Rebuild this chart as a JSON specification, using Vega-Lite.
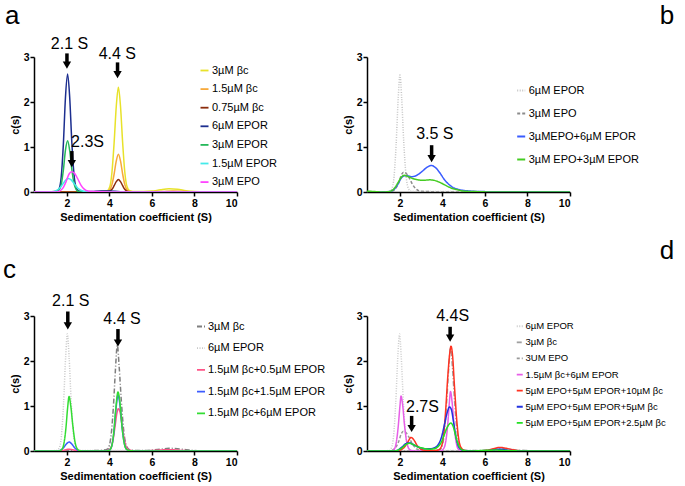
{
  "$schema": "https://vega.github.io/schema/vega-lite/v6.json",
  "background": "white",
  "padding": {"left": 2, "top": 3, "right": 5, "bottom": 5},
  "config": {
    "view": {"stroke": null},
    "font": "Liberation Sans",
    "axis": {"domainColor": "#000", "domainWidth": 1.5, "tickColor": "#000", "tickWidth": 1.5, "tickSize": 4, "labelFont": "Liberation Sans", "labelFontWeight": "bold", "labelFontSize": 10.5, "labelColor": "#000", "labelPadding": 2, "titleFont": "Liberation Sans", "titleFontWeight": "bold", "titleFontSize": 11, "titleColor": "#000", "grid": false},
    "axisY": {"titlePadding": 3, "labelPadding": 1},
    "axisX": {"titlePadding": 3},
    "legend": {"orient": "none", "symbolType": "stroke", "symbolSize": 64, "symbolStrokeWidth": 1.8, "labelFont": "Liberation Sans", "labelFontSize": 11, "labelColor": "#000", "padding": 0, "labelOffset": 2, "labelLimit": 400},
    "text": {"font": "Liberation Sans", "fontSize": 16, "baseline": "alphabetic", "color": "#000"}
  },
  "resolve": {"scale": {"color": "independent", "strokeDash": "independent", "x": "independent", "y": "independent"}, "legend": {"color": "independent", "strokeDash": "independent"}},
  "datasets": {
    "a": [
      {"s":"3µM βc","x":0.45,"y":0},{"s":"3µM βc","x":3.0,"y":0},{"s":"3µM βc","x":3.5,"y":0.01},{"s":"3µM βc","x":3.9,"y":0.03},{"s":"3µM βc","x":4.02,"y":0.12},{"s":"3µM βc","x":4.12,"y":0.45},{"s":"3µM βc","x":4.22,"y":1.1},{"s":"3µM βc","x":4.32,"y":1.9},{"s":"3µM βc","x":4.42,"y":2.33},{"s":"3µM βc","x":4.52,"y":1.9},{"s":"3µM βc","x":4.62,"y":1.1},{"s":"3µM βc","x":4.72,"y":0.45},{"s":"3µM βc","x":4.82,"y":0.13},{"s":"3µM βc","x":4.95,"y":0.03},{"s":"3µM βc","x":5.2,"y":0.01},{"s":"3µM βc","x":5.6,"y":0.01},{"s":"3µM βc","x":6.0,"y":0.02},{"s":"3µM βc","x":6.4,"y":0.05},{"s":"3µM βc","x":6.8,"y":0.07},{"s":"3µM βc","x":7.2,"y":0.06},{"s":"3µM βc","x":7.6,"y":0.03},{"s":"3µM βc","x":8.0,"y":0.01},{"s":"3µM βc","x":8.5,"y":0},{"s":"3µM βc","x":10,"y":0},
      {"s":"1.5µM βc","x":0.45,"y":0},{"s":"1.5µM βc","x":3.0,"y":0},{"s":"1.5µM βc","x":3.9,"y":0.01},{"s":"1.5µM βc","x":4.02,"y":0.05},{"s":"1.5µM βc","x":4.12,"y":0.17},{"s":"1.5µM βc","x":4.22,"y":0.4},{"s":"1.5µM βc","x":4.32,"y":0.69},{"s":"1.5µM βc","x":4.42,"y":0.84},{"s":"1.5µM βc","x":4.52,"y":0.69},{"s":"1.5µM βc","x":4.62,"y":0.4},{"s":"1.5µM βc","x":4.72,"y":0.17},{"s":"1.5µM βc","x":4.82,"y":0.05},{"s":"1.5µM βc","x":4.95,"y":0.01},{"s":"1.5µM βc","x":5.3,"y":0},{"s":"1.5µM βc","x":6.5,"y":0.01},{"s":"1.5µM βc","x":7.0,"y":0.02},{"s":"1.5µM βc","x":7.5,"y":0.01},{"s":"1.5µM βc","x":8,"y":0},{"s":"1.5µM βc","x":10,"y":0},
      {"s":"0.75µM βc","x":0.45,"y":0},{"s":"0.75µM βc","x":3.0,"y":0},{"s":"0.75µM βc","x":3.9,"y":0.01},{"s":"0.75µM βc","x":4.02,"y":0.02},{"s":"0.75µM βc","x":4.12,"y":0.06},{"s":"0.75µM βc","x":4.22,"y":0.14},{"s":"0.75µM βc","x":4.32,"y":0.23},{"s":"0.75µM βc","x":4.42,"y":0.28},{"s":"0.75µM βc","x":4.52,"y":0.23},{"s":"0.75µM βc","x":4.62,"y":0.14},{"s":"0.75µM βc","x":4.72,"y":0.06},{"s":"0.75µM βc","x":4.82,"y":0.02},{"s":"0.75µM βc","x":5.0,"y":0},{"s":"0.75µM βc","x":10,"y":0},
      {"s":"6µM EPOR","x":0.45,"y":0},{"s":"6µM EPOR","x":1.0,"y":0},{"s":"6µM EPOR","x":1.5,"y":0.01},{"s":"6µM EPOR","x":1.63,"y":0.07},{"s":"6µM EPOR","x":1.73,"y":0.33},{"s":"6µM EPOR","x":1.83,"y":1.05},{"s":"6µM EPOR","x":1.93,"y":2.1},{"s":"6µM EPOR","x":2.03,"y":2.62},{"s":"6µM EPOR","x":2.13,"y":2.1},{"s":"6µM EPOR","x":2.23,"y":1.1},{"s":"6µM EPOR","x":2.33,"y":0.4},{"s":"6µM EPOR","x":2.43,"y":0.1},{"s":"6µM EPOR","x":2.55,"y":0.02},{"s":"6µM EPOR","x":2.8,"y":0.005},{"s":"6µM EPOR","x":3.2,"y":0.01},{"s":"6µM EPOR","x":3.6,"y":0.02},{"s":"6µM EPOR","x":4.0,"y":0.02},{"s":"6µM EPOR","x":4.4,"y":0.01},{"s":"6µM EPOR","x":5.0,"y":0},{"s":"6µM EPOR","x":10,"y":0},
      {"s":"3µM EPOR","x":0.45,"y":0},{"s":"3µM EPOR","x":1.5,"y":0.01},{"s":"3µM EPOR","x":1.63,"y":0.05},{"s":"3µM EPOR","x":1.73,"y":0.16},{"s":"3µM EPOR","x":1.83,"y":0.48},{"s":"3µM EPOR","x":1.93,"y":0.93},{"s":"3µM EPOR","x":2.03,"y":1.14},{"s":"3µM EPOR","x":2.13,"y":0.92},{"s":"3µM EPOR","x":2.23,"y":0.5},{"s":"3µM EPOR","x":2.33,"y":0.2},{"s":"3µM EPOR","x":2.43,"y":0.06},{"s":"3µM EPOR","x":2.55,"y":0.01},{"s":"3µM EPOR","x":3.0,"y":0},{"s":"3µM EPOR","x":10,"y":0},
      {"s":"1.5µM EPOR","x":0.45,"y":0},{"s":"1.5µM EPOR","x":1.3,"y":0},{"s":"1.5µM EPOR","x":1.45,"y":0.02},{"s":"1.5µM EPOR","x":1.6,"y":0.06},{"s":"1.5µM EPOR","x":1.75,"y":0.14},{"s":"1.5µM EPOR","x":1.9,"y":0.24},{"s":"1.5µM EPOR","x":2.05,"y":0.3},{"s":"1.5µM EPOR","x":2.2,"y":0.27},{"s":"1.5µM EPOR","x":2.35,"y":0.18},{"s":"1.5µM EPOR","x":2.5,"y":0.09},{"s":"1.5µM EPOR","x":2.65,"y":0.04},{"s":"1.5µM EPOR","x":2.85,"y":0.01},{"s":"1.5µM EPOR","x":3.2,"y":0},{"s":"1.5µM EPOR","x":10,"y":0},
      {"s":"3µM EPO","x":0.45,"y":0},{"s":"3µM EPO","x":1.5,"y":0},{"s":"3µM EPO","x":1.65,"y":0.02},{"s":"3µM EPO","x":1.8,"y":0.08},{"s":"3µM EPO","x":1.95,"y":0.22},{"s":"3µM EPO","x":2.1,"y":0.4},{"s":"3µM EPO","x":2.22,"y":0.45},{"s":"3µM EPO","x":2.35,"y":0.42},{"s":"3µM EPO","x":2.5,"y":0.3},{"s":"3µM EPO","x":2.65,"y":0.16},{"s":"3µM EPO","x":2.8,"y":0.07},{"s":"3µM EPO","x":3.0,"y":0.02},{"s":"3µM EPO","x":3.3,"y":0.01},{"s":"3µM EPO","x":4.0,"y":0},{"s":"3µM EPO","x":10,"y":0}
    ],
    "aT": [{"x":2.12,"y":3.17,"t":"2.1 S"},{"x":4.37,"y":2.95,"t":"4.4 S"},{"x":2.97,"y":0.99,"t":"2.3S"}],
    "aA": [{"x":2.0,"y0":3.08,"y1":2.82},{"x":4.38,"y0":2.88,"y1":2.61},{"x":2.23,"y0":0.91,"y1":0.63}],
    "aL": [{"x":-0.915,"y":3.73,"t":"a"}],
    "b": [
      {"s":"6µM EPOR","x":0.45,"y":0},{"s":"6µM EPOR","x":1.5,"y":0.01},{"s":"6µM EPOR","x":1.62,"y":0.07},{"s":"6µM EPOR","x":1.72,"y":0.33},{"s":"6µM EPOR","x":1.82,"y":1.05},{"s":"6µM EPOR","x":1.92,"y":2.1},{"s":"6µM EPOR","x":2.0,"y":2.6},{"s":"6µM EPOR","x":2.08,"y":2.1},{"s":"6µM EPOR","x":2.18,"y":1.1},{"s":"6µM EPOR","x":2.28,"y":0.4},{"s":"6µM EPOR","x":2.38,"y":0.1},{"s":"6µM EPOR","x":2.5,"y":0.02},{"s":"6µM EPOR","x":2.8,"y":0.01},{"s":"6µM EPOR","x":3.5,"y":0.01},{"s":"6µM EPOR","x":10,"y":0},
      {"s":"3µM EPO","x":0.45,"y":0},{"s":"3µM EPO","x":1.5,"y":0},{"s":"3µM EPO","x":1.65,"y":0.02},{"s":"3µM EPO","x":1.8,"y":0.08},{"s":"3µM EPO","x":1.95,"y":0.22},{"s":"3µM EPO","x":2.07,"y":0.38},{"s":"3µM EPO","x":2.17,"y":0.44},{"s":"3µM EPO","x":2.3,"y":0.41},{"s":"3µM EPO","x":2.45,"y":0.3},{"s":"3µM EPO","x":2.6,"y":0.16},{"s":"3µM EPO","x":2.75,"y":0.07},{"s":"3µM EPO","x":2.95,"y":0.02},{"s":"3µM EPO","x":3.3,"y":0.01},{"s":"3µM EPO","x":4.0,"y":0},{"s":"3µM EPO","x":10,"y":0},
      {"s":"3µMEPO+6µM EPOR","x":0.45,"y":0},{"s":"3µMEPO+6µM EPOR","x":1.2,"y":0},{"s":"3µMEPO+6µM EPOR","x":1.5,"y":0.01},{"s":"3µMEPO+6µM EPOR","x":1.7,"y":0.05},{"s":"3µMEPO+6µM EPOR","x":1.9,"y":0.17},{"s":"3µMEPO+6µM EPOR","x":2.05,"y":0.3},{"s":"3µMEPO+6µM EPOR","x":2.2,"y":0.36},{"s":"3µMEPO+6µM EPOR","x":2.35,"y":0.36},{"s":"3µMEPO+6µM EPOR","x":2.55,"y":0.34},{"s":"3µMEPO+6µM EPOR","x":2.75,"y":0.36},{"s":"3µMEPO+6µM EPOR","x":3.0,"y":0.44},{"s":"3µMEPO+6µM EPOR","x":3.25,"y":0.54},{"s":"3µMEPO+6µM EPOR","x":3.47,"y":0.59},{"s":"3µMEPO+6µM EPOR","x":3.7,"y":0.53},{"s":"3µMEPO+6µM EPOR","x":3.9,"y":0.41},{"s":"3µMEPO+6µM EPOR","x":4.1,"y":0.27},{"s":"3µMEPO+6µM EPOR","x":4.3,"y":0.17},{"s":"3µMEPO+6µM EPOR","x":4.5,"y":0.1},{"s":"3µMEPO+6µM EPOR","x":4.8,"y":0.05},{"s":"3µMEPO+6µM EPOR","x":5.2,"y":0.025},{"s":"3µMEPO+6µM EPOR","x":5.8,"y":0.01},{"s":"3µMEPO+6µM EPOR","x":7.0,"y":0.005},{"s":"3µMEPO+6µM EPOR","x":10,"y":0.005},
      {"s":"3µM EPO+3µM EPOR","x":0.45,"y":0.02},{"s":"3µM EPO+3µM EPOR","x":0.8,"y":0.01},{"s":"3µM EPO+3µM EPOR","x":1.2,"y":0},{"s":"3µM EPO+3µM EPOR","x":1.5,"y":0.01},{"s":"3µM EPO+3µM EPOR","x":1.7,"y":0.06},{"s":"3µM EPO+3µM EPOR","x":1.9,"y":0.2},{"s":"3µM EPO+3µM EPOR","x":2.05,"y":0.32},{"s":"3µM EPO+3µM EPOR","x":2.2,"y":0.37},{"s":"3µM EPO+3µM EPOR","x":2.4,"y":0.34},{"s":"3µM EPO+3µM EPOR","x":2.6,"y":0.3},{"s":"3µM EPO+3µM EPOR","x":2.85,"y":0.27},{"s":"3µM EPO+3µM EPOR","x":3.1,"y":0.26},{"s":"3µM EPO+3µM EPOR","x":3.4,"y":0.27},{"s":"3µM EPO+3µM EPOR","x":3.6,"y":0.26},{"s":"3µM EPO+3µM EPOR","x":3.85,"y":0.22},{"s":"3µM EPO+3µM EPOR","x":4.1,"y":0.16},{"s":"3µM EPO+3µM EPOR","x":4.4,"y":0.09},{"s":"3µM EPO+3µM EPOR","x":4.7,"y":0.05},{"s":"3µM EPO+3µM EPOR","x":5.0,"y":0.02},{"s":"3µM EPO+3µM EPOR","x":5.5,"y":0.01},{"s":"3µM EPO+3µM EPOR","x":6.5,"y":0},{"s":"3µM EPO+3µM EPOR","x":10,"y":0}
    ],
    "bT": [{"x":3.64,"y":1.18,"t":"3.5 S"}],
    "bA": [{"x":3.49,"y0":1.04,"y1":0.74}],
    "bL": [{"x":14.9,"y":3.73,"t":"b"}],
    "c": [
      {"s":"3µM βc","x":0.45,"y":0},{"s":"3µM βc","x":3.5,"y":0.01},{"s":"3µM βc","x":3.9,"y":0.04},{"s":"3µM βc","x":4.0,"y":0.13},{"s":"3µM βc","x":4.1,"y":0.45},{"s":"3µM βc","x":4.2,"y":1.1},{"s":"3µM βc","x":4.28,"y":1.8},{"s":"3µM βc","x":4.37,"y":2.35},{"s":"3µM βc","x":4.46,"y":1.85},{"s":"3µM βc","x":4.56,"y":1.1},{"s":"3µM βc","x":4.66,"y":0.5},{"s":"3µM βc","x":4.76,"y":0.17},{"s":"3µM βc","x":4.88,"y":0.05},{"s":"3µM βc","x":5.0,"y":0.02},{"s":"3µM βc","x":5.5,"y":0.01},{"s":"3µM βc","x":6.0,"y":0.02},{"s":"3µM βc","x":6.4,"y":0.04},{"s":"3µM βc","x":6.8,"y":0.06},{"s":"3µM βc","x":7.2,"y":0.05},{"s":"3µM βc","x":7.6,"y":0.03},{"s":"3µM βc","x":8.0,"y":0.01},{"s":"3µM βc","x":8.5,"y":0},{"s":"3µM βc","x":10,"y":0},
      {"s":"6µM EPOR","x":0.45,"y":0},{"s":"6µM EPOR","x":1.5,"y":0.01},{"s":"6µM EPOR","x":1.64,"y":0.07},{"s":"6µM EPOR","x":1.74,"y":0.33},{"s":"6µM EPOR","x":1.84,"y":1.05},{"s":"6µM EPOR","x":1.94,"y":2.1},{"s":"6µM EPOR","x":2.02,"y":2.6},{"s":"6µM EPOR","x":2.1,"y":2.1},{"s":"6µM EPOR","x":2.2,"y":1.1},{"s":"6µM EPOR","x":2.3,"y":0.4},{"s":"6µM EPOR","x":2.4,"y":0.1},{"s":"6µM EPOR","x":2.52,"y":0.02},{"s":"6µM EPOR","x":2.8,"y":0.01},{"s":"6µM EPOR","x":3.5,"y":0.01},{"s":"6µM EPOR","x":10,"y":0},
      {"s":"1.5µM βc+0.5µM EPOR","x":0.45,"y":0},{"s":"1.5µM βc+0.5µM EPOR","x":1.6,"y":0},{"s":"1.5µM βc+0.5µM EPOR","x":1.8,"y":0.01},{"s":"1.5µM βc+0.5µM EPOR","x":1.95,"y":0.03},{"s":"1.5µM βc+0.5µM EPOR","x":2.1,"y":0.04},{"s":"1.5µM βc+0.5µM EPOR","x":2.25,"y":0.03},{"s":"1.5µM βc+0.5µM EPOR","x":2.45,"y":0.01},{"s":"1.5µM βc+0.5µM EPOR","x":2.7,"y":0},{"s":"1.5µM βc+0.5µM EPOR","x":3.6,"y":0},{"s":"1.5µM βc+0.5µM EPOR","x":3.9,"y":0.01},{"s":"1.5µM βc+0.5µM EPOR","x":4.05,"y":0.06},{"s":"1.5µM βc+0.5µM EPOR","x":4.15,"y":0.2},{"s":"1.5µM βc+0.5µM EPOR","x":4.25,"y":0.5},{"s":"1.5µM βc+0.5µM EPOR","x":4.35,"y":0.84},{"s":"1.5µM βc+0.5µM EPOR","x":4.42,"y":0.94},{"s":"1.5µM βc+0.5µM EPOR","x":4.5,"y":0.86},{"s":"1.5µM βc+0.5µM EPOR","x":4.6,"y":0.55},{"s":"1.5µM βc+0.5µM EPOR","x":4.7,"y":0.25},{"s":"1.5µM βc+0.5µM EPOR","x":4.8,"y":0.08},{"s":"1.5µM βc+0.5µM EPOR","x":4.95,"y":0.02},{"s":"1.5µM βc+0.5µM EPOR","x":5.3,"y":0},{"s":"1.5µM βc+0.5µM EPOR","x":6.0,"y":0.01},{"s":"1.5µM βc+0.5µM EPOR","x":6.8,"y":0.03},{"s":"1.5µM βc+0.5µM EPOR","x":7.5,"y":0.01},{"s":"1.5µM βc+0.5µM EPOR","x":8.0,"y":0},{"s":"1.5µM βc+0.5µM EPOR","x":10,"y":0},
      {"s":"1.5µM βc+1.5µM EPOR","x":0.45,"y":0},{"s":"1.5µM βc+1.5µM EPOR","x":1.5,"y":0},{"s":"1.5µM βc+1.5µM EPOR","x":1.7,"y":0.02},{"s":"1.5µM βc+1.5µM EPOR","x":1.85,"y":0.08},{"s":"1.5µM βc+1.5µM EPOR","x":2.0,"y":0.17},{"s":"1.5µM βc+1.5µM EPOR","x":2.1,"y":0.2},{"s":"1.5µM βc+1.5µM EPOR","x":2.2,"y":0.17},{"s":"1.5µM βc+1.5µM EPOR","x":2.35,"y":0.08},{"s":"1.5µM βc+1.5µM EPOR","x":2.5,"y":0.02},{"s":"1.5µM βc+1.5µM EPOR","x":2.7,"y":0},{"s":"1.5µM βc+1.5µM EPOR","x":3.8,"y":0},{"s":"1.5µM βc+1.5µM EPOR","x":4.0,"y":0.02},{"s":"1.5µM βc+1.5µM EPOR","x":4.1,"y":0.1},{"s":"1.5µM βc+1.5µM EPOR","x":4.2,"y":0.38},{"s":"1.5µM βc+1.5µM EPOR","x":4.3,"y":0.9},{"s":"1.5µM βc+1.5µM EPOR","x":4.4,"y":1.24},{"s":"1.5µM βc+1.5µM EPOR","x":4.5,"y":1.0},{"s":"1.5µM βc+1.5µM EPOR","x":4.6,"y":0.5},{"s":"1.5µM βc+1.5µM EPOR","x":4.7,"y":0.17},{"s":"1.5µM βc+1.5µM EPOR","x":4.8,"y":0.04},{"s":"1.5µM βc+1.5µM EPOR","x":4.95,"y":0.01},{"s":"1.5µM βc+1.5µM EPOR","x":5.3,"y":0},{"s":"1.5µM βc+1.5µM EPOR","x":10,"y":0},
      {"s":"1.5µM βc+6µM EPOR","x":0.45,"y":0},{"s":"1.5µM βc+6µM EPOR","x":1.6,"y":0},{"s":"1.5µM βc+6µM EPOR","x":1.75,"y":0.03},{"s":"1.5µM βc+6µM EPOR","x":1.85,"y":0.15},{"s":"1.5µM βc+6µM EPOR","x":1.95,"y":0.5},{"s":"1.5µM βc+6µM EPOR","x":2.03,"y":0.95},{"s":"1.5µM βc+6µM EPOR","x":2.1,"y":1.21},{"s":"1.5µM βc+6µM EPOR","x":2.18,"y":1.0},{"s":"1.5µM βc+6µM EPOR","x":2.28,"y":0.55},{"s":"1.5µM βc+6µM EPOR","x":2.38,"y":0.2},{"s":"1.5µM βc+6µM EPOR","x":2.48,"y":0.05},{"s":"1.5µM βc+6µM EPOR","x":2.6,"y":0.01},{"s":"1.5µM βc+6µM EPOR","x":2.8,"y":0},{"s":"1.5µM βc+6µM EPOR","x":3.8,"y":0},{"s":"1.5µM βc+6µM EPOR","x":4.0,"y":0.02},{"s":"1.5µM βc+6µM EPOR","x":4.1,"y":0.1},{"s":"1.5µM βc+6µM EPOR","x":4.2,"y":0.4},{"s":"1.5µM βc+6µM EPOR","x":4.3,"y":0.95},{"s":"1.5µM βc+6µM EPOR","x":4.4,"y":1.31},{"s":"1.5µM βc+6µM EPOR","x":4.5,"y":1.05},{"s":"1.5µM βc+6µM EPOR","x":4.6,"y":0.5},{"s":"1.5µM βc+6µM EPOR","x":4.7,"y":0.16},{"s":"1.5µM βc+6µM EPOR","x":4.8,"y":0.04},{"s":"1.5µM βc+6µM EPOR","x":4.95,"y":0.01},{"s":"1.5µM βc+6µM EPOR","x":5.3,"y":0},{"s":"1.5µM βc+6µM EPOR","x":10,"y":0}
    ],
    "cT": [{"x":2.18,"y":3.22,"t":"2.1 S"},{"x":4.59,"y":2.82,"t":"4.4 S"}],
    "cA": [{"x":2.04,"y0":3.1,"y1":2.78},{"x":4.4,"y0":2.71,"y1":2.4}],
    "cL": [{"x":-1.01,"y":3.84,"t":"c"}],
    "d": [
      {"s":"6µM EPOR","x":0.45,"y":0},{"s":"6µM EPOR","x":1.5,"y":0.01},{"s":"6µM EPOR","x":1.6,"y":0.07},{"s":"6µM EPOR","x":1.7,"y":0.33},{"s":"6µM EPOR","x":1.8,"y":1.05},{"s":"6µM EPOR","x":1.9,"y":2.1},{"s":"6µM EPOR","x":1.98,"y":2.6},{"s":"6µM EPOR","x":2.06,"y":2.1},{"s":"6µM EPOR","x":2.16,"y":1.1},{"s":"6µM EPOR","x":2.26,"y":0.4},{"s":"6µM EPOR","x":2.36,"y":0.1},{"s":"6µM EPOR","x":2.48,"y":0.02},{"s":"6µM EPOR","x":2.8,"y":0.01},{"s":"6µM EPOR","x":3.5,"y":0.01},{"s":"6µM EPOR","x":10,"y":0},
      {"s":"3µM βc","x":0.45,"y":0},{"s":"3µM βc","x":3.5,"y":0.01},{"s":"3µM βc","x":3.9,"y":0.04},{"s":"3µM βc","x":4.0,"y":0.13},{"s":"3µM βc","x":4.1,"y":0.45},{"s":"3µM βc","x":4.2,"y":1.1},{"s":"3µM βc","x":4.29,"y":1.8},{"s":"3µM βc","x":4.38,"y":2.3},{"s":"3µM βc","x":4.47,"y":1.85},{"s":"3µM βc","x":4.57,"y":1.1},{"s":"3µM βc","x":4.67,"y":0.5},{"s":"3µM βc","x":4.77,"y":0.17},{"s":"3µM βc","x":4.88,"y":0.05},{"s":"3µM βc","x":5.0,"y":0.02},{"s":"3µM βc","x":5.5,"y":0.01},{"s":"3µM βc","x":6.0,"y":0.02},{"s":"3µM βc","x":6.4,"y":0.04},{"s":"3µM βc","x":6.8,"y":0.05},{"s":"3µM βc","x":7.2,"y":0.04},{"s":"3µM βc","x":7.6,"y":0.02},{"s":"3µM βc","x":8.0,"y":0.01},{"s":"3µM βc","x":8.5,"y":0},{"s":"3µM βc","x":10,"y":0},
      {"s":"3UM EPO","x":0.45,"y":0},{"s":"3UM EPO","x":1.5,"y":0},{"s":"3UM EPO","x":1.65,"y":0.02},{"s":"3UM EPO","x":1.8,"y":0.08},{"s":"3UM EPO","x":1.95,"y":0.22},{"s":"3UM EPO","x":2.06,"y":0.38},{"s":"3UM EPO","x":2.16,"y":0.44},{"s":"3UM EPO","x":2.28,"y":0.41},{"s":"3UM EPO","x":2.43,"y":0.3},{"s":"3UM EPO","x":2.58,"y":0.16},{"s":"3UM EPO","x":2.73,"y":0.07},{"s":"3UM EPO","x":2.93,"y":0.02},{"s":"3UM EPO","x":3.3,"y":0.01},{"s":"3UM EPO","x":4.0,"y":0},{"s":"3UM EPO","x":10,"y":0},
      {"s":"1.5µM βc+6µM EPOR","x":0.45,"y":0},{"s":"1.5µM βc+6µM EPOR","x":1.6,"y":0},{"s":"1.5µM βc+6µM EPOR","x":1.72,"y":0.03},{"s":"1.5µM βc+6µM EPOR","x":1.82,"y":0.17},{"s":"1.5µM βc+6µM EPOR","x":1.92,"y":0.55},{"s":"1.5µM βc+6µM EPOR","x":2.0,"y":1.0},{"s":"1.5µM βc+6µM EPOR","x":2.05,"y":1.22},{"s":"1.5µM βc+6µM EPOR","x":2.12,"y":1.05},{"s":"1.5µM βc+6µM EPOR","x":2.22,"y":0.55},{"s":"1.5µM βc+6µM EPOR","x":2.32,"y":0.2},{"s":"1.5µM βc+6µM EPOR","x":2.42,"y":0.05},{"s":"1.5µM βc+6µM EPOR","x":2.55,"y":0.01},{"s":"1.5µM βc+6µM EPOR","x":2.8,"y":0},{"s":"1.5µM βc+6µM EPOR","x":3.9,"y":0},{"s":"1.5µM βc+6µM EPOR","x":4.05,"y":0.05},{"s":"1.5µM βc+6µM EPOR","x":4.15,"y":0.2},{"s":"1.5µM βc+6µM EPOR","x":4.25,"y":0.6},{"s":"1.5µM βc+6µM EPOR","x":4.32,"y":1.05},{"s":"1.5µM βc+6µM EPOR","x":4.38,"y":1.32},{"s":"1.5µM βc+6µM EPOR","x":4.45,"y":1.1},{"s":"1.5µM βc+6µM EPOR","x":4.55,"y":0.55},{"s":"1.5µM βc+6µM EPOR","x":4.65,"y":0.18},{"s":"1.5µM βc+6µM EPOR","x":4.75,"y":0.04},{"s":"1.5µM βc+6µM EPOR","x":4.9,"y":0.01},{"s":"1.5µM βc+6µM EPOR","x":5.2,"y":0},{"s":"1.5µM βc+6µM EPOR","x":10,"y":0},
      {"s":"5µM EPO+5µM EPOR+10µM βc","x":0.45,"y":0},{"s":"5µM EPO+5µM EPOR+10µM βc","x":1.8,"y":0},{"s":"5µM EPO+5µM EPOR+10µM βc","x":2.0,"y":0.02},{"s":"5µM EPO+5µM EPOR+10µM βc","x":2.2,"y":0.08},{"s":"5µM EPO+5µM EPOR+10µM βc","x":2.35,"y":0.18},{"s":"5µM EPO+5µM EPOR+10µM βc","x":2.52,"y":0.3},{"s":"5µM EPO+5µM EPOR+10µM βc","x":2.65,"y":0.25},{"s":"5µM EPO+5µM EPOR+10µM βc","x":2.8,"y":0.13},{"s":"5µM EPO+5µM EPOR+10µM βc","x":2.95,"y":0.05},{"s":"5µM EPO+5µM EPOR+10µM βc","x":3.1,"y":0.02},{"s":"5µM EPO+5µM EPOR+10µM βc","x":3.4,"y":0.01},{"s":"5µM EPO+5µM EPOR+10µM βc","x":3.8,"y":0.02},{"s":"5µM EPO+5µM EPOR+10µM βc","x":3.95,"y":0.1},{"s":"5µM EPO+5µM EPOR+10µM βc","x":4.05,"y":0.35},{"s":"5µM EPO+5µM EPOR+10µM βc","x":4.15,"y":0.9},{"s":"5µM EPO+5µM EPOR+10µM βc","x":4.25,"y":1.65},{"s":"5µM EPO+5µM EPOR+10µM βc","x":4.35,"y":2.2},{"s":"5µM EPO+5µM EPOR+10µM βc","x":4.4,"y":2.33},{"s":"5µM EPO+5µM EPOR+10µM βc","x":4.47,"y":2.15},{"s":"5µM EPO+5µM EPOR+10µM βc","x":4.57,"y":1.4},{"s":"5µM EPO+5µM EPOR+10µM βc","x":4.67,"y":0.7},{"s":"5µM EPO+5µM EPOR+10µM βc","x":4.77,"y":0.25},{"s":"5µM EPO+5µM EPOR+10µM βc","x":4.9,"y":0.06},{"s":"5µM EPO+5µM EPOR+10µM βc","x":5.05,"y":0.01},{"s":"5µM EPO+5µM EPOR+10µM βc","x":5.5,"y":0},{"s":"5µM EPO+5µM EPOR+10µM βc","x":6.0,"y":0.01},{"s":"5µM EPO+5µM EPOR+10µM βc","x":6.4,"y":0.05},{"s":"5µM EPO+5µM EPOR+10µM βc","x":6.7,"y":0.08},{"s":"5µM EPO+5µM EPOR+10µM βc","x":7.0,"y":0.06},{"s":"5µM EPO+5µM EPOR+10µM βc","x":7.4,"y":0.02},{"s":"5µM EPO+5µM EPOR+10µM βc","x":8.0,"y":0},{"s":"5µM EPO+5µM EPOR+10µM βc","x":10,"y":0},
      {"s":"5µM EPO+5µM EPOR+5µM βc","x":0.45,"y":0},{"s":"5µM EPO+5µM EPOR+5µM βc","x":1.7,"y":0},{"s":"5µM EPO+5µM EPOR+5µM βc","x":1.9,"y":0.02},{"s":"5µM EPO+5µM EPOR+5µM βc","x":2.1,"y":0.09},{"s":"5µM EPO+5µM EPOR+5µM βc","x":2.3,"y":0.17},{"s":"5µM EPO+5µM EPOR+5µM βc","x":2.45,"y":0.18},{"s":"5µM EPO+5µM EPOR+5µM βc","x":2.6,"y":0.15},{"s":"5µM EPO+5µM EPOR+5µM βc","x":2.8,"y":0.1},{"s":"5µM EPO+5µM EPOR+5µM βc","x":3.0,"y":0.07},{"s":"5µM EPO+5µM EPOR+5µM βc","x":3.2,"y":0.05},{"s":"5µM EPO+5µM EPOR+5µM βc","x":3.4,"y":0.05},{"s":"5µM EPO+5µM EPOR+5µM βc","x":3.6,"y":0.07},{"s":"5µM EPO+5µM EPOR+5µM βc","x":3.8,"y":0.14},{"s":"5µM EPO+5µM EPOR+5µM βc","x":3.95,"y":0.3},{"s":"5µM EPO+5µM EPOR+5µM βc","x":4.1,"y":0.6},{"s":"5µM EPO+5µM EPOR+5µM βc","x":4.22,"y":0.85},{"s":"5µM EPO+5µM EPOR+5µM βc","x":4.33,"y":0.98},{"s":"5µM EPO+5µM EPOR+5µM βc","x":4.42,"y":0.92},{"s":"5µM EPO+5µM EPOR+5µM βc","x":4.52,"y":0.65},{"s":"5µM EPO+5µM EPOR+5µM βc","x":4.62,"y":0.35},{"s":"5µM EPO+5µM EPOR+5µM βc","x":4.72,"y":0.14},{"s":"5µM EPO+5µM EPOR+5µM βc","x":4.85,"y":0.04},{"s":"5µM EPO+5µM EPOR+5µM βc","x":5.0,"y":0.01},{"s":"5µM EPO+5µM EPOR+5µM βc","x":5.5,"y":0},{"s":"5µM EPO+5µM EPOR+5µM βc","x":6.2,"y":0.01},{"s":"5µM EPO+5µM EPOR+5µM βc","x":6.7,"y":0.04},{"s":"5µM EPO+5µM EPOR+5µM βc","x":7.2,"y":0.01},{"s":"5µM EPO+5µM EPOR+5µM βc","x":8.0,"y":0},{"s":"5µM EPO+5µM EPOR+5µM βc","x":10,"y":0},
      {"s":"5µM EPO+5µM EPOR+2.5µM βc","x":0.45,"y":0},{"s":"5µM EPO+5µM EPOR+2.5µM βc","x":1.7,"y":0},{"s":"5µM EPO+5µM EPOR+2.5µM βc","x":1.9,"y":0.02},{"s":"5µM EPO+5µM EPOR+2.5µM βc","x":2.1,"y":0.07},{"s":"5µM EPO+5µM EPOR+2.5µM βc","x":2.3,"y":0.15},{"s":"5µM EPO+5µM EPOR+2.5µM βc","x":2.45,"y":0.17},{"s":"5µM EPO+5µM EPOR+2.5µM βc","x":2.6,"y":0.15},{"s":"5µM EPO+5µM EPOR+2.5µM βc","x":2.8,"y":0.1},{"s":"5µM EPO+5µM EPOR+2.5µM βc","x":3.0,"y":0.07},{"s":"5µM EPO+5µM EPOR+2.5µM βc","x":3.2,"y":0.05},{"s":"5µM EPO+5µM EPOR+2.5µM βc","x":3.4,"y":0.04},{"s":"5µM EPO+5µM EPOR+2.5µM βc","x":3.6,"y":0.05},{"s":"5µM EPO+5µM EPOR+2.5µM βc","x":3.8,"y":0.1},{"s":"5µM EPO+5µM EPOR+2.5µM βc","x":3.95,"y":0.2},{"s":"5µM EPO+5µM EPOR+2.5µM βc","x":4.1,"y":0.38},{"s":"5µM EPO+5µM EPOR+2.5µM βc","x":4.25,"y":0.55},{"s":"5µM EPO+5µM EPOR+2.5µM βc","x":4.4,"y":0.62},{"s":"5µM EPO+5µM EPOR+2.5µM βc","x":4.5,"y":0.55},{"s":"5µM EPO+5µM EPOR+2.5µM βc","x":4.6,"y":0.38},{"s":"5µM EPO+5µM EPOR+2.5µM βc","x":4.7,"y":0.2},{"s":"5µM EPO+5µM EPOR+2.5µM βc","x":4.82,"y":0.07},{"s":"5µM EPO+5µM EPOR+2.5µM βc","x":4.95,"y":0.02},{"s":"5µM EPO+5µM EPOR+2.5µM βc","x":5.2,"y":0},{"s":"5µM EPO+5µM EPOR+2.5µM βc","x":6.5,"y":0.02},{"s":"5µM EPO+5µM EPOR+2.5µM βc","x":7.0,"y":0.01},{"s":"5µM EPO+5µM EPOR+2.5µM βc","x":8.0,"y":0},{"s":"5µM EPO+5µM EPOR+2.5µM βc","x":10,"y":0}
    ],
    "dT": [{"x":4.48,"y":2.9,"t":"4.4S"},{"x":3.06,"y":0.87,"t":"2.7S"}],
    "dA": [{"x":4.36,"y0":2.76,"y1":2.51},{"x":2.55,"y0":0.78,"y1":0.5}],
    "dL": [{"x":14.9,"y":4.27,"t":"d"}]
  },
  "columns": 2,
  "spacing": {"row": 124, "column": 130},
  "bounds": "flush",
  "concat": [
    {
      "width": 203, "height": 135,
      "layer": [
        {"data": {"name": "a"}, "mark": {"type": "line", "strokeWidth": 1.5, "interpolate": "monotone", "clip": true},
         "encoding": {
           "x": {"field": "x", "type": "quantitative", "scale": {"domain": [0.45, 10], "nice": false, "zero": false}, "axis": {"values": [2, 4, 6, 8, 10], "title": "Sedimentation coefficient (S)"}},
           "y": {"field": "y", "type": "quantitative", "scale": {"domain": [0, 3], "nice": false}, "axis": {"values": [0, 1, 2, 3], "title": "c(s)"}},
           "color": {"field": "s", "type": "nominal", "scale": {"domain": ["3µM βc", "1.5µM βc", "0.75µM βc", "6µM EPOR", "3µM EPOR", "1.5µM EPOR", "3µM EPO"], "range": ["#e8e22a", "#f7a93b", "#8b2c0c", "#1c2e8f", "#25b85a", "#45eaea", "#ff45ff"]}, "legend": {"title": null, "legendX": 165, "legendY": 8, "rowPadding": 6.6}}
         }},
        {"data": {"name": "aT"}, "mark": {"type": "text"}, "encoding": {"x": {"field": "x", "type": "quantitative"}, "y": {"field": "y", "type": "quantitative"}, "text": {"field": "t"}}},
        {"data": {"name": "aL"}, "mark": {"type": "text", "fontSize": 26, "align": "left"}, "encoding": {"x": {"field": "x", "type": "quantitative"}, "y": {"field": "y", "type": "quantitative"}, "text": {"field": "t"}}},
        {"data": {"name": "aA"}, "mark": {"type": "rule", "strokeWidth": 3.5, "color": "#000"}, "encoding": {"x": {"field": "x", "type": "quantitative"}, "y": {"field": "y0", "type": "quantitative"}, "y2": {"field": "y1"}}},
        {"data": {"name": "aA"}, "mark": {"type": "point", "shape": "triangle-down", "filled": true, "size": 70, "color": "#000", "opacity": 1}, "encoding": {"x": {"field": "x", "type": "quantitative"}, "y": {"field": "y1", "type": "quantitative"}}}
      ]
    },
    {
      "width": 203, "height": 135,
      "layer": [
        {"data": {"name": "b"}, "mark": {"type": "line", "strokeWidth": 1.5, "interpolate": "monotone", "clip": true},
         "encoding": {
           "x": {"field": "x", "type": "quantitative", "scale": {"domain": [0.45, 10], "nice": false, "zero": false}, "axis": {"values": [2, 4, 6, 8, 10], "title": "Sedimentation coefficient (S)"}},
           "y": {"field": "y", "type": "quantitative", "scale": {"domain": [0, 3], "nice": false}, "axis": {"values": [0, 1, 2, 3], "title": "c(s)"}},
           "color": {"field": "s", "type": "nominal", "scale": {"domain": ["6µM EPOR", "3µM EPO", "3µMEPO+6µM EPOR", "3µM EPO+3µM EPOR"], "range": ["#c4c4c4", "#8c8c8c", "#3a5cff", "#44cc22"]}, "legend": {"title": null, "legendX": 148.7, "legendY": 28, "rowPadding": 11}},
           "strokeDash": {"field": "s", "type": "nominal", "scale": {"domain": ["6µM EPOR", "3µM EPO", "3µMEPO+6µM EPOR", "3µM EPO+3µM EPOR"], "range": [[1, 1.5], [3, 2], [1, 0], [1, 0]]}, "legend": {"title": null, "legendX": 148.7, "legendY": 28, "rowPadding": 11}}
         }},
        {"data": {"name": "bT"}, "mark": {"type": "text"}, "encoding": {"x": {"field": "x", "type": "quantitative"}, "y": {"field": "y", "type": "quantitative"}, "text": {"field": "t"}}},
        {"data": {"name": "bL"}, "mark": {"type": "text", "fontSize": 26, "align": "right"}, "encoding": {"x": {"field": "x", "type": "quantitative"}, "y": {"field": "y", "type": "quantitative"}, "text": {"field": "t"}}},
        {"data": {"name": "bA"}, "mark": {"type": "rule", "strokeWidth": 3.5, "color": "#000"}, "encoding": {"x": {"field": "x", "type": "quantitative"}, "y": {"field": "y0", "type": "quantitative"}, "y2": {"field": "y1"}}},
        {"data": {"name": "bA"}, "mark": {"type": "point", "shape": "triangle-down", "filled": true, "size": 70, "color": "#000", "opacity": 1}, "encoding": {"x": {"field": "x", "type": "quantitative"}, "y": {"field": "y1", "type": "quantitative"}}}
      ]
    },
    {
      "width": 203, "height": 135,
      "layer": [
        {"data": {"name": "c"}, "mark": {"type": "line", "strokeWidth": 1.5, "interpolate": "monotone", "clip": true},
         "encoding": {
           "x": {"field": "x", "type": "quantitative", "scale": {"domain": [0.45, 10], "nice": false, "zero": false}, "axis": {"values": [2, 4, 6, 8, 10], "title": "Sedimentation coefficient (S)"}},
           "y": {"field": "y", "type": "quantitative", "scale": {"domain": [0, 3], "nice": false}, "axis": {"values": [0, 1, 2, 3], "title": "c(s)"}},
           "color": {"field": "s", "type": "nominal", "scale": {"domain": ["3µM βc", "6µM EPOR", "1.5µM βc+0.5µM EPOR", "1.5µM βc+1.5µM EPOR", "1.5µM βc+6µM EPOR"], "range": ["#7f7f7f", "#c8c8c8", "#ff5588", "#3d5cff", "#33dd33"]}, "legend": {"title": null, "legendX": 161.5, "legendY": 5, "rowPadding": 9.7, "labelOffset": 1.5}},
           "strokeDash": {"field": "s", "type": "nominal", "scale": {"domain": ["3µM βc", "6µM EPOR", "1.5µM βc+0.5µM EPOR", "1.5µM βc+1.5µM EPOR", "1.5µM βc+6µM EPOR"], "range": [[5, 2, 1, 2], [1, 1.5], [1, 0], [1, 0], [1, 0]]}, "legend": {"title": null, "legendX": 161.5, "legendY": 5, "rowPadding": 9.7, "labelOffset": 1.5}}
         }},
        {"data": {"name": "cT"}, "mark": {"type": "text"}, "encoding": {"x": {"field": "x", "type": "quantitative"}, "y": {"field": "y", "type": "quantitative"}, "text": {"field": "t"}}},
        {"data": {"name": "cL"}, "mark": {"type": "text", "fontSize": 26, "align": "left"}, "encoding": {"x": {"field": "x", "type": "quantitative"}, "y": {"field": "y", "type": "quantitative"}, "text": {"field": "t"}}},
        {"data": {"name": "cA"}, "mark": {"type": "rule", "strokeWidth": 3.5, "color": "#000"}, "encoding": {"x": {"field": "x", "type": "quantitative"}, "y": {"field": "y0", "type": "quantitative"}, "y2": {"field": "y1"}}},
        {"data": {"name": "cA"}, "mark": {"type": "point", "shape": "triangle-down", "filled": true, "size": 70, "color": "#000", "opacity": 1}, "encoding": {"x": {"field": "x", "type": "quantitative"}, "y": {"field": "y1", "type": "quantitative"}}}
      ]
    },
    {
      "width": 203, "height": 135,
      "layer": [
        {"data": {"name": "d"}, "mark": {"type": "line", "strokeWidth": 1.5, "interpolate": "monotone", "clip": true},
         "encoding": {
           "x": {"field": "x", "type": "quantitative", "scale": {"domain": [0.45, 10], "nice": false, "zero": false}, "axis": {"values": [2, 4, 6, 8, 10], "title": "Sedimentation coefficient (S)"}},
           "y": {"field": "y", "type": "quantitative", "scale": {"domain": [0, 3], "nice": false}, "axis": {"values": [0, 1, 2, 3], "title": "c(s)"}},
           "color": {"field": "s", "type": "nominal", "scale": {"domain": ["6µM EPOR", "3µM βc", "3UM EPO", "1.5µM βc+6µM EPOR", "5µM EPO+5µM EPOR+10µM βc", "5µM EPO+5µM EPOR+5µM βc", "5µM EPO+5µM EPOR+2.5µM βc"], "range": ["#cccccc", "#a0a0a0", "#999999", "#e75ee7", "#ff3322", "#2233e0", "#22e022"]}, "legend": {"title": null, "legendX": 148, "legendY": 5.5, "rowPadding": 5.1, "labelFontSize": 9.5, "symbolSize": 36, "labelOffset": 1}},
           "strokeDash": {"field": "s", "type": "nominal", "scale": {"domain": ["6µM EPOR", "3µM βc", "3UM EPO", "1.5µM βc+6µM EPOR", "5µM EPO+5µM EPOR+10µM βc", "5µM EPO+5µM EPOR+5µM βc", "5µM EPO+5µM EPOR+2.5µM βc"], "range": [[1, 1.5], [5, 2, 1, 2], [3, 2], [1, 0], [1, 0], [1, 0], [1, 0]]}, "legend": {"title": null, "legendX": 148, "legendY": 5.5, "rowPadding": 5.1, "labelFontSize": 9.5, "symbolSize": 36, "labelOffset": 1}}
         }},
        {"data": {"name": "dT"}, "mark": {"type": "text"}, "encoding": {"x": {"field": "x", "type": "quantitative"}, "y": {"field": "y", "type": "quantitative"}, "text": {"field": "t"}}},
        {"data": {"name": "dL"}, "mark": {"type": "text", "fontSize": 26, "align": "right"}, "encoding": {"x": {"field": "x", "type": "quantitative"}, "y": {"field": "y", "type": "quantitative"}, "text": {"field": "t"}}},
        {"data": {"name": "dA"}, "mark": {"type": "rule", "strokeWidth": 3.5, "color": "#000"}, "encoding": {"x": {"field": "x", "type": "quantitative"}, "y": {"field": "y0", "type": "quantitative"}, "y2": {"field": "y1"}}},
        {"data": {"name": "dA"}, "mark": {"type": "point", "shape": "triangle-down", "filled": true, "size": 70, "color": "#000", "opacity": 1}, "encoding": {"x": {"field": "x", "type": "quantitative"}, "y": {"field": "y1", "type": "quantitative"}}}
      ]
    }
  ]
}
